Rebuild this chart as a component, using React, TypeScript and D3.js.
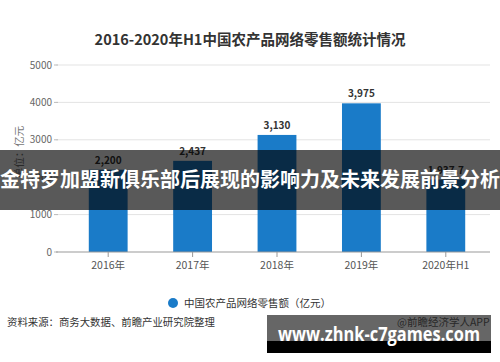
import React from "react";
import * as d3 from "d3";

const categories = ["2016年", "2017年", "2018年", "2019年", "2020年H1"];
const values = [2200, 2437, 3130, 3975, 1937.7];
const valueLabels = ["2,200", "2,437", "3,130", "3,975", "1,937.7"];
const yTicks = [0, 1000, 2000, 3000, 4000, 5000];

const title = "2016-2020年H1中国农产品网络零售额统计情况";
const yTitle = "单位：亿元";
const legendLabel = "中国农产品网络零售额（亿元）";
const sourceText = "资料来源：商务大数据、前瞻产业研究院整理";
const brandText = "@前瞻经济学人APP";
const bannerText = "金特罗加盟新俱乐部后展现的影响力及未来发展前景分析";
const urlText = "www.zhnk-c7games.com";

const W = 500;
const H = 362;
const FONT = "'Noto Sans CJK SC', 'Noto Sans', sans-serif";
const BAR = "#1a7bc8";

export default function App() {
  const x = d3
    .scaleBand<string>()
    .domain(categories)
    .range([66, 488])
    .paddingInner(0.54)
    .paddingOuter(0.27);
  const y = d3.scaleLinear().domain([0, 5000]).range([252, 65]);

  return (
    <svg
      width={W}
      height={H}
      style={{ position: "absolute", left: 0, top: 0, background: "#fff" }}
      fontFamily={FONT}
    >
      <rect x={0} y={0} width={W} height={H} fill="#fff" />
      <text x={250} y={45} textAnchor="middle" fontSize={14.5} fontWeight="bold" fill="#333">
        {title}
      </text>

      {yTicks.map((t) => (
        <g key={t}>
          {t > 0 && (
            <line x1={56} x2={490} y1={y(t)} y2={y(t)} stroke="#e3e3e3" strokeWidth={1} />
          )}
          <line x1={54} x2={58} y1={y(t)} y2={y(t)} stroke="#bbb" />
          <text x={52} y={y(t)} dy="0.35em" textAnchor="end" fontSize={10} fill="#666">
            {t}
          </text>
        </g>
      ))}

      <text
        transform={`translate(19,152) rotate(-90)`}
        textAnchor="middle"
        dy="0.35em"
        fontSize={10.5}
        fill="#777"
      >
        {yTitle}
      </text>

      {categories.map((c, i) => (
        <g key={c}>
          <rect
            x={x(c)}
            y={y(values[i])}
            width={x.bandwidth()}
            height={y(0) - y(values[i])}
            fill={BAR}
          />
          <text
            x={(x(c) as number) + x.bandwidth() / 2}
            y={y(values[i]) - 6}
            textAnchor="middle"
            fontSize={10}
            fontWeight="bold"
            fill="#333"
          >
            {valueLabels[i]}
          </text>
          <line
            x1={(x(c) as number) + x.bandwidth() / 2}
            x2={(x(c) as number) + x.bandwidth() / 2}
            y1={y(0)}
            y2={y(0) + 5}
            stroke="#999"
          />
          <text
            x={(x(c) as number) + x.bandwidth() / 2}
            y={y(0) + 13}
            dy="0.35em"
            textAnchor="middle"
            fontSize={10.5}
            fill="#555"
          >
            {c}
          </text>
        </g>
      ))}
      <line x1={56} x2={490} y1={y(0)} y2={y(0)} stroke="#999" />

      <circle cx={173} cy={303} r={5} fill={BAR} />
      <text x={184} y={303} dy="0.35em" fontSize={10.5} fill="#333">
        {legendLabel}
      </text>

      <text x={7} y={322} dy="0.35em" fontSize={10.4} fill="#333">
        {sourceText}
      </text>
      <text x={397} y={322} dy="0.35em" fontSize={10.5} fill="#666">
        {brandText}
      </text>

      <rect x={0} y={150} width={W} height={60} fill="#000" fillOpacity={0.65} />
      <text
        x={250}
        y={180}
        dy="0.35em"
        textAnchor="middle"
        fontSize={20}
        fontWeight="bold"
        fill="#fff"
      >
        {bannerText}
      </text>

      <rect x={267} y={315} width={224} height={26} fill="#000" fillOpacity={0.6} />
      <rect x={267} y={341} width={224} height={12} fill="#000" />
      <text
        x={278}
        y={341}
        fontSize={19}
        fontWeight="bold"
        fill="#fff"
        fontFamily="'Open Sans', 'Liberation Sans', sans-serif"
        textLength={202}
        lengthAdjust="spacingAndGlyphs"
      >
        {urlText}
      </text>
    </svg>
  );
}
